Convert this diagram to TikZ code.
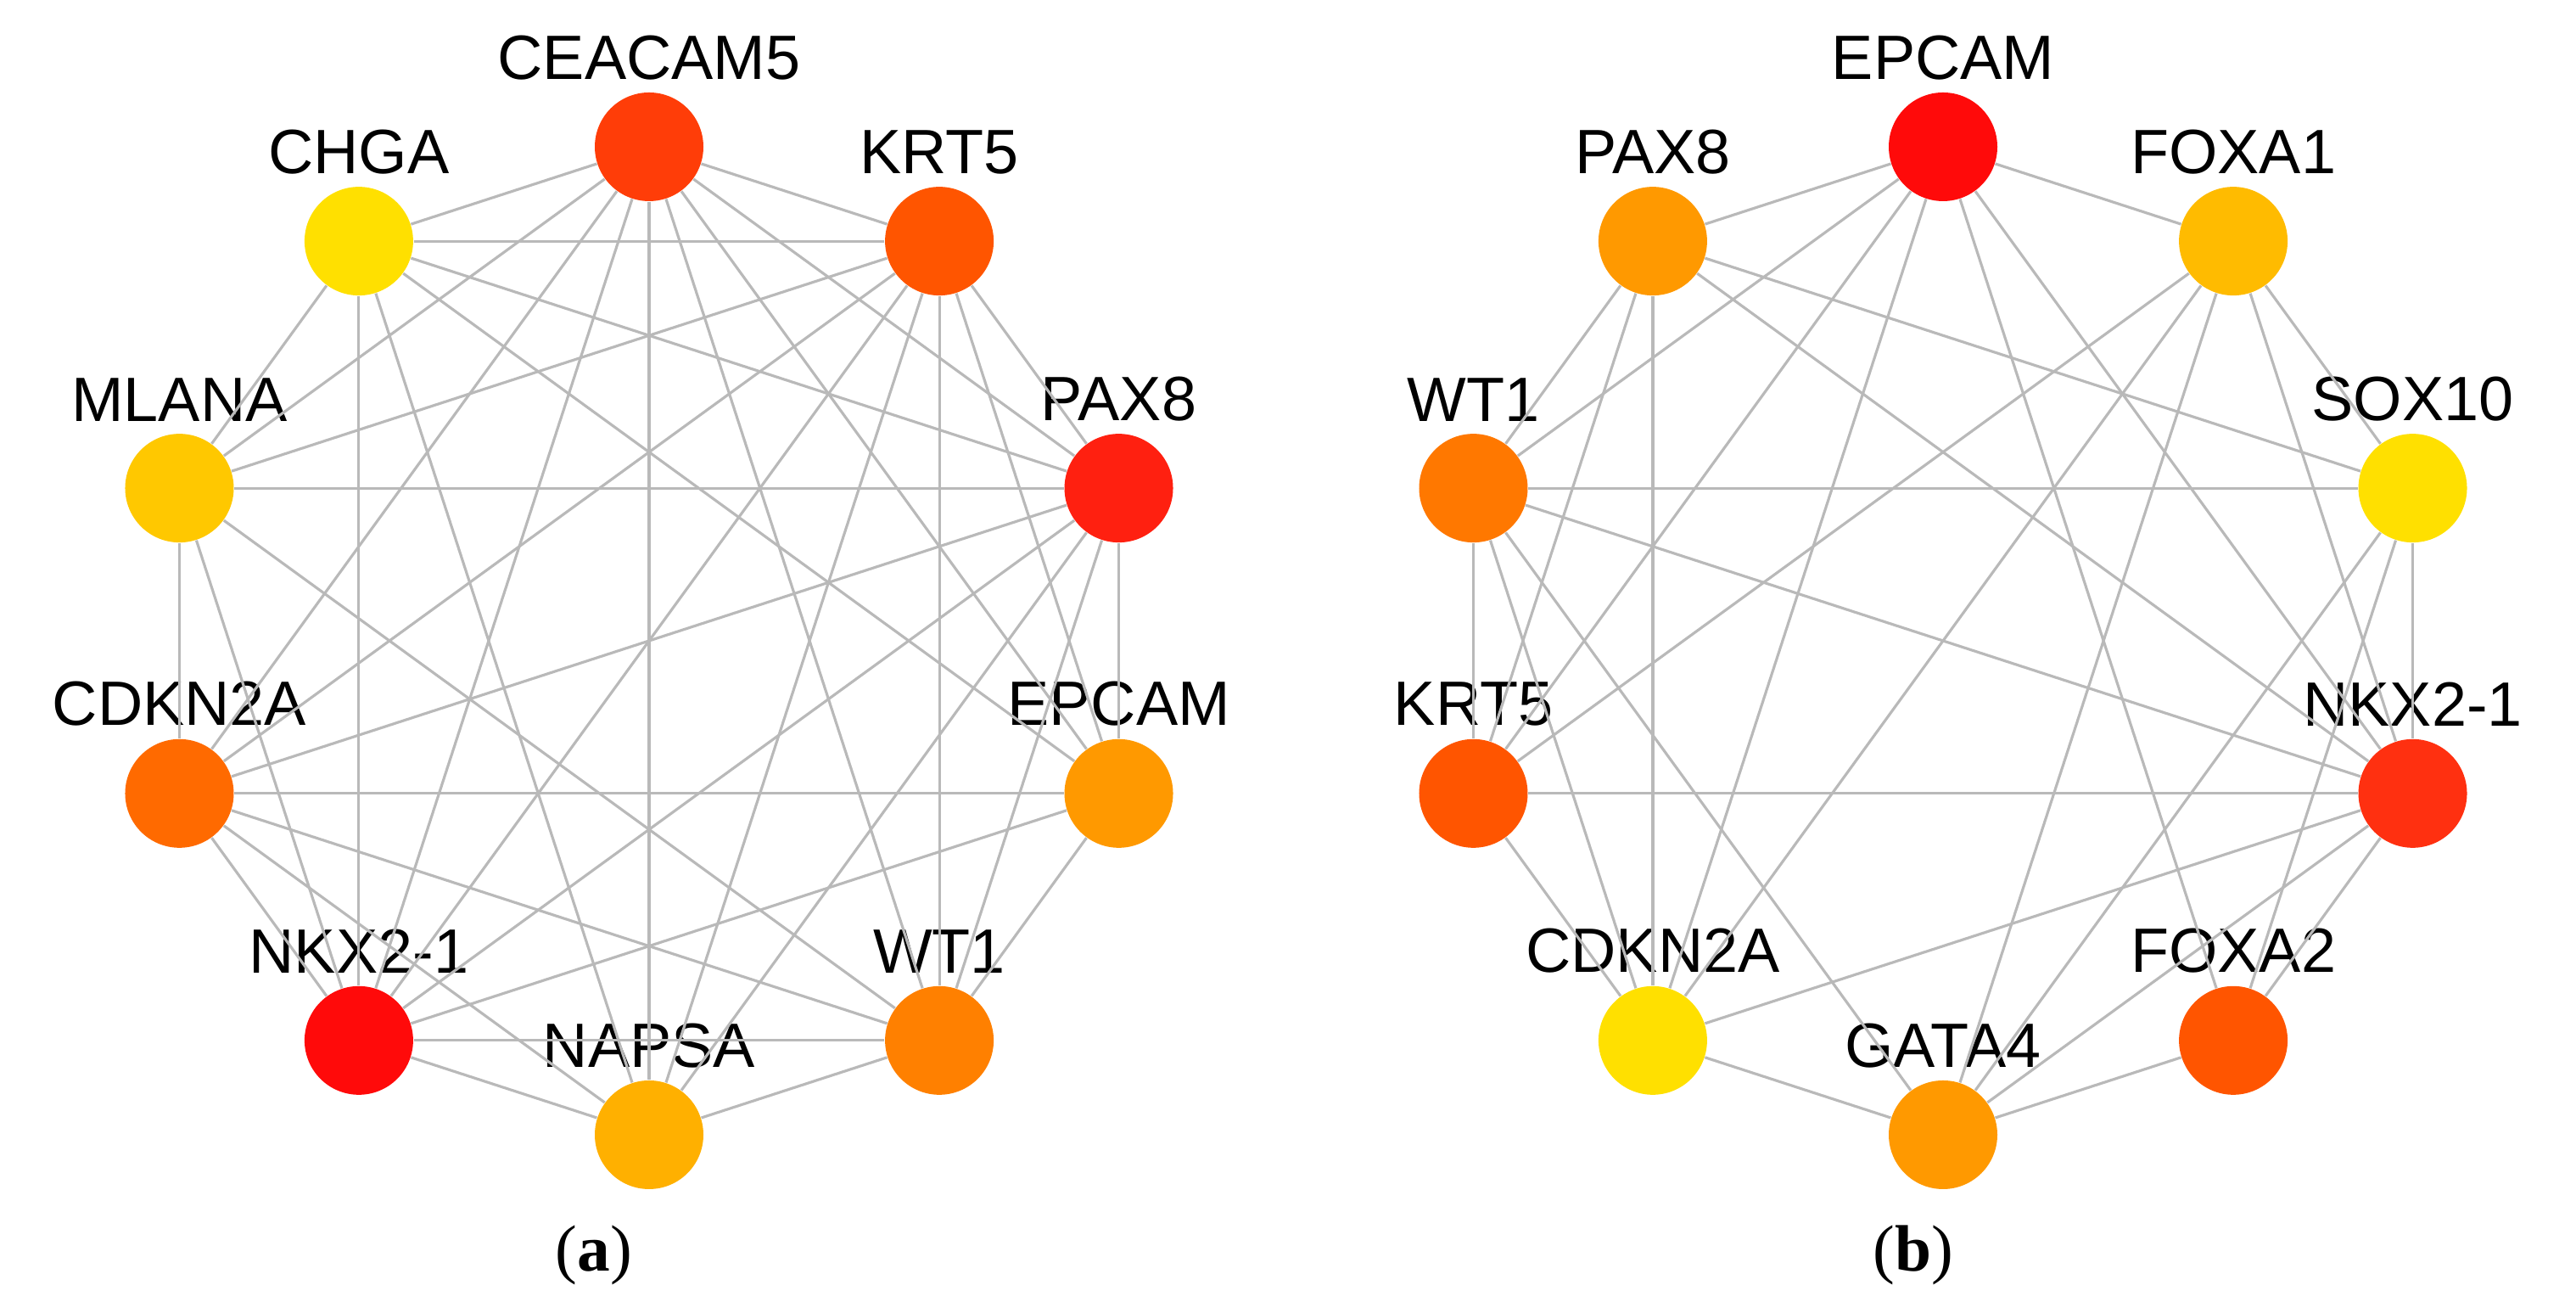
\documentclass[tikz,border=0pt]{standalone}
\usepackage{fontspec}
\setmainfont{Liberation Sans}
\newfontfamily\capfont{Liberation Serif}
\definecolor{cA}{HTML}{FF3D08}
\definecolor{cB}{HTML}{FF5500}
\definecolor{cC}{HTML}{FF2010}
\definecolor{cD}{HTML}{FF9900}
\definecolor{cE}{HTML}{FF8000}
\definecolor{cF}{HTML}{FFB000}
\definecolor{cG}{HTML}{FF0A0A}
\definecolor{cH}{HTML}{FF6A00}
\definecolor{cI}{HTML}{FFC800}
\definecolor{cJ}{HTML}{FFE000}
\definecolor{cK}{HTML}{FFBB00}
\definecolor{cL}{HTML}{FF3010}
\definecolor{cM}{HTML}{FF7800}
\begin{document}
\begin{tikzpicture}
                            [gene/.style = {circle,
                                        minimum size = 1.28cm,
                                        inner sep = 0pt},
                            lab/.style = {font=\fontsize{21}{24}\selectfont,
                                        label distance = 0.02cm},
                            edge/.style = {draw=gray!55, line width=0.9pt}]
                            \useasboundingbox (0,0) rectangle (30.36,15.34);
                            % panel a
                            \begin{scope}[shift={(7.65,7.79)}]
                            \foreach \n/\a/\c/\t in {CEA/90/cA/CEACAM5, KRT/54/cB/KRT5, PAX/18/cC/PAX8,
                                    EPC/-18/cD/EPCAM, WTO/-54/cE/WT1, NAP/-90/cF/NAPSA,
                                    NKX/-126/cG/NKX2-1, CDK/-162/cH/CDKN2A, MLA/162/cI/MLANA, CHG/126/cJ/CHGA}
                                \node[gene,fill=\c,label={[lab]above:\t}] (a\n) at (\a:5.82) {};
                            \foreach \u/\v in {CEA/KRT, CEA/PAX, CEA/EPC, CEA/WTO, CEA/NAP, CEA/NKX, CEA/CDK, CEA/MLA, CEA/CHG,
                                    KRT/PAX, KRT/EPC, KRT/WTO, KRT/NAP, KRT/NKX, KRT/CDK, KRT/MLA, KRT/CHG,
                                    PAX/EPC, PAX/WTO, PAX/NAP, PAX/NKX, PAX/CDK, PAX/MLA, PAX/CHG,
                                    NKX/EPC, NKX/WTO, NKX/NAP, NKX/CDK, NKX/MLA, NKX/CHG,
                                    CHG/EPC, CHG/NAP, CHG/MLA,
                                    NAP/CDK, NAP/WTO, EPC/CDK, EPC/WTO,
                                    MLA/WTO, MLA/CDK, CDK/WTO}
                                \draw[edge] (a\u) -- (a\v);
                            \end{scope}
                            % panel b
                            \begin{scope}[shift={(22.90,7.79)}]
                            \foreach \n/\a/\c/\t in {EPC/90/cG/EPCAM, FOA/54/cK/FOXA1, SOX/18/cJ/SOX10,
                                    NKX/-18/cL/NKX2-1, FOB/-54/cB/FOXA2, GAT/-90/cD/GATA4,
                                    CDK/-126/cJ/CDKN2A, KRT/-162/cB/KRT5, WTO/162/cM/WT1, PAX/126/cD/PAX8}
                                \node[gene,fill=\c,label={[lab]above:\t}] (b\n) at (\a:5.82) {};
                            \foreach \u/\v in {EPC/PAX, EPC/FOA, EPC/WTO, EPC/KRT, EPC/CDK, EPC/FOB, EPC/NKX,
                                    FOA/KRT, FOA/CDK, FOA/GAT, FOA/NKX, FOA/SOX,
                                    SOX/PAX, SOX/WTO, SOX/GAT, SOX/FOB, SOX/NKX,
                                    NKX/PAX, NKX/WTO, NKX/KRT, NKX/CDK, NKX/GAT, NKX/FOB,
                                    FOB/GAT, GAT/CDK, GAT/WTO,
                                    CDK/KRT, CDK/WTO, CDK/PAX,
                                    KRT/WTO, KRT/PAX, WTO/PAX}
                                \draw[edge] (b\u) -- (b\v);
                            \end{scope}
                            \node[font=\capfont\fontsize{22}{26}\selectfont] (capa) at (7.0,0.55) {(\textbf{a})};
                            \node[font=\capfont\fontsize{22}{26}\selectfont] (capb) at (22.55,0.55) {(\textbf{b})};
                        \end{tikzpicture}
\end{document}
